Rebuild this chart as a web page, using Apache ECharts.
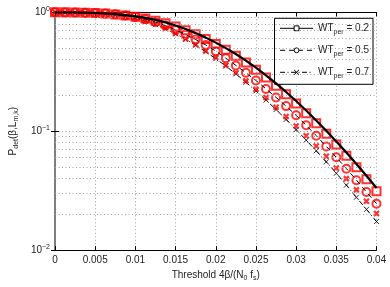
<!DOCTYPE html>
<html><head><meta charset="utf-8">
<script src="https://cdn.jsdelivr.net/npm/echarts@6/dist/echarts.min.js"></script>
<style>html,body{margin:0;padding:0;background:#fff}#c{width:390px;height:287px}</style>
</head><body><div id="c"></div>
<script>
const xs = [0,0.00125,0.0025,0.00375,0.005,0.00625,0.0075,0.00875,0.01,0.01125,0.0125,0.01375,0.015,0.01625,0.0175,0.01875,0.02,0.02125,0.0225,0.02375,0.025,0.02625,0.0275,0.02875,0.03,0.03125,0.0325,0.03375,0.035,0.03625,0.0375,0.03875,0.04];
const theory02 = [1.000,1.000,0.9977,0.9931,0.9863,0.9772,0.9638,0.9462,0.9247,0.8974,0.8630,0.8222,0.7745,0.7228,0.6683,0.6124,0.5559,0.5000,0.4457,0.3926,0.3420,0.2951,0.2523,0.2138,0.1795,0.1493,0.1230,0.1007,0.0818,0.0661,0.0530,0.0422,0.0333];
const theory05 = [1.000,0.9977,0.9954,0.9908,0.9840,0.9745,0.9605,0.9400,0.9100,0.8730,0.8270,0.7730,0.7120,0.6490,0.5900,0.5310,0.4720,0.4110,0.3580,0.3100,0.2670,0.2270,0.1925,0.1625,0.1360,0.1120,0.0918,0.0746,0.0603,0.0485,0.0388,0.0308,0.0246];
const theory07 = [1.000,0.9977,0.9931,0.9863,0.9772,0.9638,0.9462,0.9204,0.8851,0.8414,0.7870,0.7244,0.6592,0.5929,0.5284,0.4656,0.4074,0.3532,0.3034,0.2582,0.2183,0.1828,0.1521,0.1256,0.1030,0.0841,0.0684,0.0552,0.0443,0.0352,0.0278,0.0220,0.0174];
const sim02 = [1.000,1.000,0.9977,0.9931,0.9863,0.9772,0.9594,0.9397,0.9162,0.8872,0.8511,0.8091,0.7603,0.7079,0.6531,0.5970,0.5408,0.4853,0.4305,0.3784,0.3289,0.2831,0.2415,0.2042,0.1710,0.1419,0.1167,0.0953,0.0773,0.0622,0.0498,0.0395,0.0313];
const sim05 = [1.000,0.9977,0.9954,0.9908,0.9840,0.9750,0.9616,0.9419,0.9120,0.8750,0.8279,0.7727,0.7112,0.6486,0.5902,0.5309,0.4710,0.4102,0.3573,0.3097,0.2667,0.2265,0.1923,0.1626,0.1361,0.1122,0.0916,0.0745,0.0603,0.0484,0.0387,0.0308,0.0245];
const sim07 = [1.000,0.9977,0.9931,0.9886,0.9795,0.9683,0.9528,0.9290,0.8954,0.8531,0.8017,0.7345,0.6653,0.5998,0.5370,0.4742,0.4178,0.3597,0.3097,0.2649,0.2249,0.1923,0.1592,0.1327,0.1107,0.0916,0.0752,0.0615,0.0491,0.0399,0.0321,0.0258,0.0203];
const minorY = [0.02,0.03,0.04,0.05,0.06,0.07,0.08,0.09,0.2,0.3,0.4,0.5,0.6,0.7,0.8,0.9];
const legendLabels = {w02:'0.2', w05:'0.5', w07:'0.7'};

const FONT = 'Liberation Sans, Arial, sans-serif';
const XPATH = 'path://M0,0L10,10M10,0L0,10';
const pairs = arr => xs.map((x,i)=>[x, arr[i]]);
const dotted = {color:'#a0a0a0', width:1, type:[1,2.5]};
const chart = echarts.init(document.getElementById('c'), null, {renderer:'canvas'});
const sub = {fontSize:7, fontFamily:FONT, color:'#222', padding:[7,0,0,0]};
const sup = {fontSize:7, fontFamily:FONT, color:'#222', padding:[0,0,6,0]};
const base = {fontSize:10, fontFamily:FONT, color:'#222'};

chart.setOption({
  animation:false,
  backgroundColor:'#fff',
  grid:{left:45, right:13.5, top:12.3, bottom:29.7, containLabel:false},
  legend:{
    data:['w02','w05','w07'],
    orient:'vertical', right:17, top:18.3,
    backgroundColor:'#fff', borderColor:'#000', borderWidth:1,
    padding:[5,4,5,5], itemGap:10, itemWidth:33, itemHeight:6,
    lineStyle:{width:1},
    itemStyle:{color:'#fff', borderColor:'#000', borderWidth:1},
    formatter: n => '{a|WT}{s|per}{a| = '+legendLabels[n]+'}',
    textStyle:{rich:{a:base, s:sub}}
  },
  xAxis:[{
    type:'value', position:'bottom', min:0, max:0.04, interval:0.005,
    axisLine:{lineStyle:{color:'#000', width:1}},
    axisTick:{inside:true, length:4, lineStyle:{color:'#000'}},
    axisLabel:{fontSize:10, fontFamily:FONT, color:'#222', margin:5},
    splitLine:{show:true, lineStyle:dotted},
    name:'{a|Threshold 4β/(N}{s|0}{a| f}{s|s}{a|)}',
    nameLocation:'middle', nameGap:17,
    nameTextStyle:{rich:{a:base, s:sub}}
  },{
    type:'value', position:'top', min:0, max:0.04, interval:0.005,
    axisLine:{lineStyle:{color:'#000', width:1}},
    axisTick:{inside:true, length:4, lineStyle:{color:'#000'}},
    axisLabel:{show:false}, splitLine:{show:false}
  }],
  yAxis:[{
    type:'log', logBase:10, min:0.01, max:1, position:'left',
    axisLine:{lineStyle:{color:'#777', width:1.5}},
    axisTick:{inside:true, length:4, lineStyle:{color:'#000'}},
    axisLabel:{margin:5, formatter: v => {
      const e = Math.round(Math.log10(v));
      return '{a|10}{p|' + (e<0 ? '\u2212'+(-e) : e) + '}';
    }, rich:{a:base, p:sup}},
    splitLine:{show:true, lineStyle:dotted},
    name:'{a|P}{s|det}{a|(β,L}{s|m,k}{a|)}',
    nameLocation:'middle', nameGap:27, nameRotate:90,
    nameTextStyle:{rich:{a:base, s:sub}}
  },{
    type:'log', logBase:10, min:0.01, max:1, position:'right',
    axisLine:{lineStyle:{color:'#777', width:1.5}},
    axisTick:{inside:true, length:4, lineStyle:{color:'#000'}},
    axisLabel:{show:false}, splitLine:{show:false}
  }],
  series:[
    {name:'w07', type:'line', data:pairs(theory07), z:2,
     symbol:XPATH, symbolSize:5, showSymbol:true,
     itemStyle:{color:'#000', borderColor:'#000', borderWidth:0.8},
     lineStyle:{color:'#000', width:1, type:[5,2.5,1,2.5]},
     markLine:{silent:true, symbol:'none', label:{show:false},
       lineStyle:dotted, data:minorY.map(v=>({yAxis:v}))}},
    {name:'sim02', type:'scatter', data:pairs(sim02), z:3,
     symbol:'rect', symbolSize:8,
     itemStyle:{color:'transparent', borderColor:'#ff0000', borderWidth:2}},
    {name:'sim05', type:'scatter', data:pairs(sim05), z:3,
     symbol:'circle', symbolSize:8,
     itemStyle:{color:'transparent', borderColor:'#ff0000', borderWidth:2}},
    {name:'sim07', type:'scatter', data:pairs(sim07), z:3,
     symbol:XPATH, symbolSize:5,
     itemStyle:{color:'#ff0000', borderColor:'#ff0000', borderWidth:2.2}},
    {name:'w05', type:'line', data:pairs(theory05), z:4,
     symbol:'circle', symbolSize:5, showSymbol:false,
     lineStyle:{color:'#000', width:1, type:[5,4]}},
    {name:'w02', type:'line', data:pairs(theory02), z:5,
     symbol:'rect', symbolSize:5, showSymbol:false,
     lineStyle:{color:'#000', width:2.2}}
  ]
});
</script></body></html>
